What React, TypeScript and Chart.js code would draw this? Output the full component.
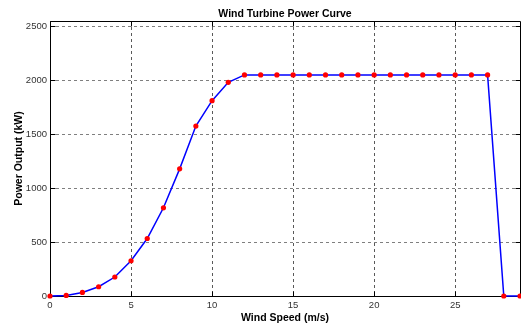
import React, { useEffect, useRef } from "react";
import { Chart, registerables } from "chart.js";

Chart.register(...registerables);

const windSpeeds = [0, 1, 2, 3, 4, 5, 6, 7, 8, 9, 10, 11, 12, 13, 14, 15, 16, 17, 18, 19, 20, 21, 22, 23, 24, 25, 26, 27, 28, 29];
const powerOutput = [0, 5, 33, 86, 176, 327, 533, 818, 1179, 1576, 1811, 1981, 2050, 2050, 2050, 2050, 2050, 2050, 2050, 2050, 2050, 2050, 2050, 2050, 2050, 2050, 2050, 2050, 0, 0];
const xTickValues = [0, 5, 10, 15, 20, 25];
const yTickValues = [0, 500, 1000, 1500, 2000, 2500];
const chartTitle = "Wind Turbine Power Curve";
const xTitle = "Wind Speed (m/s)";
const yTitle = "Power Output (kW)";

const FONT = '"Liberation Sans", Arial, Helvetica, sans-serif';

const align = (v: number) => Math.round(v - 0.5) + 0.5;

const boxPlugin = {
  id: "matlabBox",
  beforeDatasetsDraw(chart: any) {
    const { ctx, chartArea } = chart;
    const { left, right, top, bottom } = chartArea;
    const xs = chart.scales.x;
    const ys = chart.scales.y;
    const L = align(left), R = align(right), T = align(top), B = align(bottom);
    ctx.save();
    ctx.strokeStyle = "#000";
    ctx.lineWidth = 1;
    ctx.setLineDash([]);
    ctx.beginPath();
    ctx.moveTo(L, T);
    ctx.lineTo(R, T);
    ctx.lineTo(R, B);
    ctx.lineTo(L, B);
    ctx.closePath();
    ctx.stroke();
    const tl = 5;
    ctx.beginPath();
    xTickValues.forEach((v) => {
      const px = align(xs.getPixelForValue(v));
      ctx.moveTo(px, B);
      ctx.lineTo(px, B - tl);
      ctx.moveTo(px, T);
      ctx.lineTo(px, T + tl);
    });
    yTickValues.forEach((v) => {
      const py = align(ys.getPixelForValue(v));
      ctx.moveTo(L, py);
      ctx.lineTo(L + tl, py);
      ctx.moveTo(R, py);
      ctx.lineTo(R - tl, py);
    });
    ctx.stroke();
    ctx.fillStyle = "#000";
    ctx.font = `bold 10.5px ${FONT}`;
    ctx.textAlign = "center";
    ctx.textBaseline = "middle";
    ctx.fillText(chartTitle, (left + right) / 2, 14);
    ctx.restore();
  },
};

export default function App() {
  const ref = useRef<HTMLCanvasElement | null>(null);
  useEffect(() => {
    const prevMargin = document.body.style.margin;
    document.body.style.margin = "0";
    const canvas = ref.current;
    if (!canvas) return;
    const chart = new Chart(canvas, {
      type: "line",
      data: {
        labels: windSpeeds,
        datasets: [
          {
            data: windSpeeds.map((x, i) => ({ x, y: powerOutput[i] })),
            borderColor: "#0000ff",
            borderWidth: 1.5,
            pointBackgroundColor: "#ff0000",
            pointBorderColor: "#ff0000",
            pointBorderWidth: 0,
            pointRadius: 2.6,
            tension: 0,
            fill: false,
            clip: false,
          },
        ],
      },
      options: {
        animation: false,
        responsive: false,
        devicePixelRatio: 1,
        layout: { padding: { top: 21, right: 1, left: 0, bottom: 0 }, autoPadding: false },
        plugins: {
          legend: { display: false },
          tooltip: { enabled: false },
          title: { display: false },
        },
        scales: {
          x: {
            type: "linear",
            min: 0,
            max: 29,
            afterBuildTicks: (s: any) => {
              s.ticks = xTickValues.map((v) => ({ value: v }));
            },
            afterFit: (s: any) => {
              s.height = 29;
            },
            grid: {
              color: "rgba(0,0,0,0.65)",
              lineWidth: 1,
              drawTicks: false,
              tickLength: 0,
            },
            border: { display: false, color: "#000", width: 1, dash: [3, 3] },
            ticks: {
              padding: 4,
              color: "#333",
              font: { family: FONT, size: 9.5 },
              maxRotation: 0,
              autoSkip: false,
              callback: (v: any) => String(v),
            },
            title: {
              display: true,
              text: xTitle,
              color: "#000",
              font: { family: FONT, size: 10.5, weight: "bold" },
              padding: { top: 0, bottom: 1 },
            },
          },
          y: {
            type: "linear",
            min: 0,
            max: 2550,
            afterBuildTicks: (s: any) => {
              s.ticks = yTickValues.map((v) => ({ value: v }));
            },
            afterFit: (s: any) => {
              s.width = 50;
            },
            grid: {
              color: "rgba(0,0,0,0.5)",
              lineWidth: 1,
              drawTicks: false,
              tickLength: 0,
            },
            border: { display: false, color: "#000", width: 1, dash: [3, 3] },
            ticks: {
              padding: 3,
              color: "#333",
              font: { family: FONT, size: 9.5 },
              autoSkip: false,
              callback: (v: any) => String(v),
            },
            title: {
              display: true,
              text: yTitle,
              color: "#000",
              font: { family: FONT, size: 10.5, weight: "bold" },
              padding: { top: 13.2, bottom: 0 },
            },
          },
        },
      } as any,
      plugins: [boxPlugin],
    });
    return () => {
      chart.destroy();
      document.body.style.margin = prevMargin;
    };
  }, []);
  return (
    <div style={{ position: "fixed", left: 0, top: 0, width: 521, height: 325, background: "#fff" }}>
      <canvas ref={ref} width={521} height={325} style={{ display: "block", width: 521, height: 325 }} />
    </div>
  );
}
